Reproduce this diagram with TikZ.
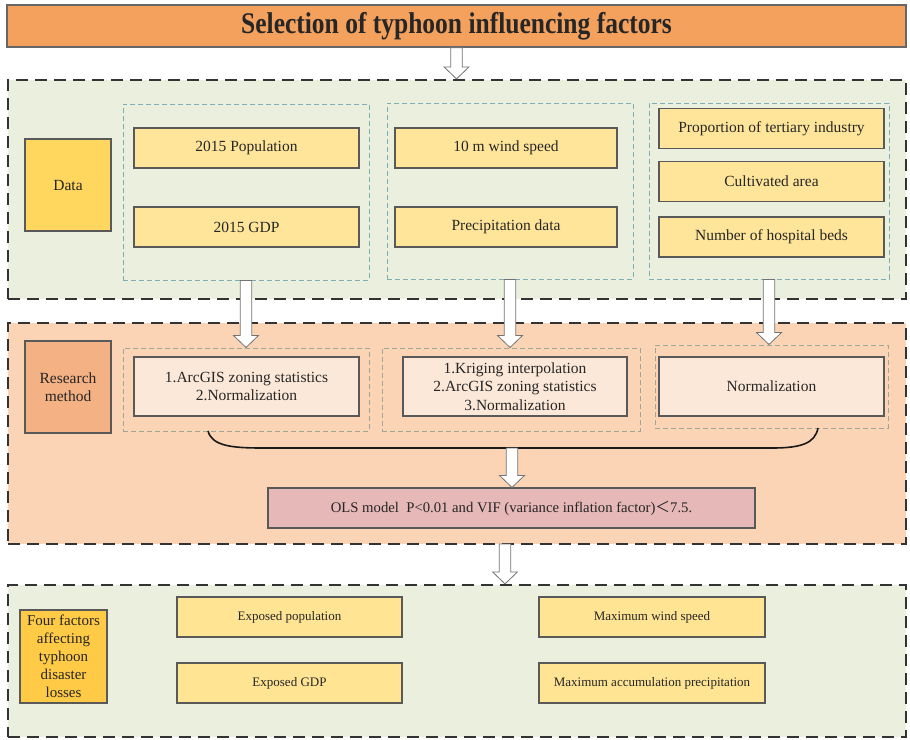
\documentclass[tikz,border=0pt]{standalone}
\usepackage{fontspec}
\setmainfont{Liberation Serif}
\newfontfamily\titlefont[FakeStretch=0.85]{Liberation Serif}
\newfontfamily\cjk{Noto Sans CJK SC}
\usetikzlibrary{calc}

\definecolor{titleorange}{HTML}{F4A15E}
\definecolor{greenbg}{HTML}{EAF0DD}
\definecolor{datagold}{HTML}{FFD75E}
\definecolor{itemyellow}{HTML}{FEE599}
\definecolor{tealdash}{HTML}{7BAFB3}
\definecolor{peachbg}{HTML}{FAD4B4}
\definecolor{rmorange}{HTML}{F4B183}
\definecolor{lightpeach}{HTML}{FCE8D8}
\definecolor{graydash}{HTML}{9DA89A}
\definecolor{olsred}{HTML}{E6B8B7}
\definecolor{fourgold}{HTML}{FFCA45}
\definecolor{bitem}{HTML}{FFE493}

% hollow block arrow between two points (x of the first one is kept)
\newcommand{\hollowarrow}[2]{%
  \draw[harrow] let \p1=(#1), \p2=(#2) in
    (\x1-5.8pt,\y1) -- (\x1+5.8pt,\y1) -- (\x1+5.8pt,\y2+12pt) -- (\x1+12.5pt,\y2+12pt)
    -- (\x1,\y2) -- (\x1-12.5pt,\y2+12pt) -- (\x1-5.8pt,\y2+12pt) -- cycle;}

\begin{document}
\begin{tikzpicture}[x=1pt,y=-1pt,
  every node/.style={text=black!85, font=\fontsize{15.5}{18.5}\selectfont},
  panel/.style={line width=2.2pt, draw=black!80, dash pattern=on 12pt off 7pt, inner sep=0pt},
  group/.style={line width=1pt, draw=#1, dash pattern=on 5pt off 3pt, inner sep=0pt},
  box/.style={draw=black!65, line width=1.1pt, align=center, inner sep=0pt},
  item/.style={box, fill=itemyellow, minimum width=225pt, minimum height=40pt},
  step item/.style={box, fill=lightpeach, minimum width=225pt, minimum height=59pt},
  out item/.style={box, fill=bitem, minimum width=225pt, minimum height=40pt,
    font=\fontsize{13}{15}\selectfont},
  harrow/.style={draw=black!55, fill=white, line width=0.8pt},
  brace/.style={line width=1.6pt, draw=black!90}]
\useasboundingbox (0,0) rectangle (910,739);

% title
\node[draw=black!60, line width=1.2pt, fill=titleorange, minimum width=899pt, minimum height=42pt,
  inner sep=0pt, font=\titlefont\bfseries\fontsize{30}{34}\selectfont] (title) at (456.5,26)
  {Selection of typhoon influencing factors};

% data
\node[panel, fill=greenbg, minimum width=898pt, minimum height=219pt] (dpanel) at (457,189.5) {};
\node[box, fill=datagold, minimum width=86pt, minimum height=92pt] (data) at (68,185) {Data};
\node[group=tealdash, minimum width=246pt, minimum height=176pt] (dg1) at (246,192) {};
\node[item] (pop) at (246.5,148) {2015 Population};
\node[item] (gdp) at (246.5,227) {2015 GDP};
\node[group=tealdash, minimum width=246pt, minimum height=176pt] (dg2) at (510,191) {};
\node[item, minimum width=222pt] (wind) at (506,148) {10 m wind speed};
\node[item, minimum width=222pt] (prec) at (506,227) {Precipitation data};
\node[group=tealdash, minimum width=240pt, minimum height=176pt] (dg3) at (769,191) {};
\node[item] (tert) at (771.5,128.5) {Proportion of tertiary industry};
\node[item] (cult) at (771.5,181.5) {Cultivated area};
\node[item] (beds) at (771.5,237) {Number of hospital beds};

% research method
\node[panel, fill=peachbg, minimum width=898pt, minimum height=221pt] (rpanel) at (457,433.5) {};
\node[box, fill=rmorange, minimum width=86pt, minimum height=92pt] (rm) at (68,387) {Research\\method};
\node[group=graydash, minimum width=246pt, minimum height=83pt] (rg1) at (246,389.5) {};
\node[step item] (m1) at (246.5,386.5) {1.ArcGIS zoning statistics\\2.Normalization};
\node[group=graydash, minimum width=258pt, minimum height=83pt] (rg2) at (511,389.5) {};
\node[step item, minimum width=224pt] (m2) at (515,386.5)
  {1.Kriging interpolation\\2.ArcGIS zoning statistics\\3.Normalization};
\node[group=graydash, minimum width=233pt, minimum height=83pt] (rg3) at (771.5,386.5) {};
\node[step item] (m3) at (771.5,386.5) {Normalization};
\draw[brace] (208,431) .. controls (212,446) and (232,448) .. (262,448) -- (772,448)
  .. controls (802,448) and (815,443) .. (818,428);
\coordinate (bracemid) at (512,448);
\node[box, fill=olsred, minimum width=487pt, minimum height=40pt, font=\fontsize{14.7}{17}\selectfont]
  (ols) at (511.5,508) {OLS model\ \ P<0.01 and VIF (variance inflation factor){\cjk ＜}7.5.};

% result
\node[panel, fill=greenbg, minimum width=898pt, minimum height=152pt] (bpanel) at (457,661) {};
\node[box, fill=fourgold, minimum width=87pt, minimum height=93pt, font=\fontsize{15}{18}\selectfont]
  (four) at (63.5,656.5) {Four factors\\affecting\\typhoon\\disaster\\losses};
\node[out item] (epop) at (289.5,617) {Exposed population};
\node[out item] (egdp) at (289.5,683) {Exposed GDP};
\node[out item, minimum width=226pt] (mwind) at (652,617) {Maximum wind speed};
\node[out item, minimum width=226pt] (mprec) at (652,683) {Maximum accumulation precipitation};

% arrows
\hollowarrow{title.south}{dpanel.north}
\hollowarrow{dg1.south}{rg1.north}
\hollowarrow{dg2.south}{rg2.north}
\hollowarrow{dg3.south}{rg3.north}
\hollowarrow{bracemid}{ols.north}
\coordinate (rout) at (505,544);
\hollowarrow{rout}{bpanel.north}
\end{tikzpicture}
\end{document}
